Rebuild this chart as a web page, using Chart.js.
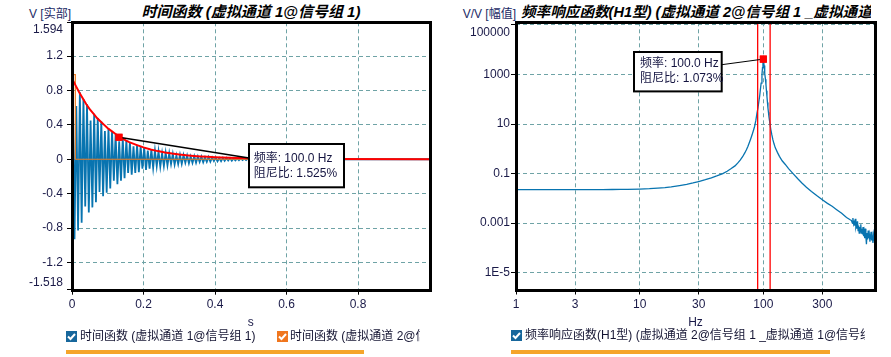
<!DOCTYPE html>
<html><head><meta charset="utf-8">
<script src="https://cdn.jsdelivr.net/npm/chart.js@4/dist/chart.umd.min.js"></script>
<style>
html,body{margin:0;padding:0;background:#fff;}
body{width:891px;height:357px;position:relative;overflow:hidden;font-family:"Liberation Sans","Noto Sans CJK SC",Arial,sans-serif;}
.abs{position:absolute;white-space:nowrap;}
.title{font-weight:bold;font-style:italic;font-size:15px;color:#000;line-height:16px;top:4px;}
.unit{font-size:12px;color:#1c2a66;line-height:14px;top:7px;}
.leg{font-size:12px;color:#141432;line-height:14px;top:329px;overflow:hidden;}
.cb{position:absolute;width:11px;height:11px;top:331px;}
.bar{position:absolute;height:4px;top:350px;background:#f5a52a;}
</style>
</head><body>
<div class="abs title" style="left:72px;width:358px;text-align:center;">时间函数 (虚拟通道 1@信号组 1)</div>
<div class="abs title" style="left:521px;width:350px;overflow:hidden;font-size:14.6px;">频率响应函数(H1型) (虚拟通道 2@信号组 1 _虚拟通道 1@信号组 1)</div>
<div class="abs unit" style="left:0;width:71px;text-align:right;">V [实部]</div>
<div class="abs unit" style="left:440px;width:76px;text-align:right;">V/V [幅值]</div>
<div style="position:absolute;left:0;top:0;width:450px;height:357px;"><canvas id="c1" width="450" height="357"></canvas></div>
<div style="position:absolute;left:450px;top:0;width:441px;height:357px;"><canvas id="c2" width="441" height="357"></canvas></div>

<svg class="cb" style="left:66px" viewBox="0 0 11 11"><rect x="0" y="0" width="11" height="11" fill="#17679c"/><polyline points="2,5.5 4.5,8 9,3" fill="none" stroke="#fff" stroke-width="2"/></svg>
<div class="abs leg" style="left:80px;width:190px;">时间函数 (虚拟通道 1@信号组 1)</div>
<svg class="cb" style="left:277px" viewBox="0 0 11 11"><rect x="0" y="0" width="11" height="11" fill="#f0761e"/><polyline points="2,5.5 4.5,8 9,3" fill="none" stroke="#fff" stroke-width="2"/></svg>
<div class="abs leg" style="left:290px;width:130px;">时间函数 (虚拟通道 2@信号组 1)</div>
<div class="bar" style="left:66px;width:298px;"></div>

<svg class="cb" style="left:511px;top:330px" viewBox="0 0 11 11"><rect x="0" y="0" width="11" height="11" fill="#17679c"/><polyline points="2,5.5 4.5,8 9,3" fill="none" stroke="#fff" stroke-width="2"/></svg>
<div class="abs leg" style="left:525px;width:340px;top:328px;">频率响应函数(H1型) (虚拟通道 2@信号组 1 _虚拟通道 1@信号组 1)</div>
<div class="bar" style="left:511px;width:319px;"></div>

<script>
// ---------------- DATA ----------------
// Left chart: time function (s, V)
const leftXTicks = [0, 0.2, 0.4, 0.6, 0.8];
const leftYTicks = [1.594, 1.2, 0.8, 0.4, 0, -0.4, -0.8, -1.2, -1.518];
const sigTime = [0,0.002,0.007,0.012,0.017,0.022,0.027,0.032,0.037,0.042,0.047,0.052,0.057,0.062,0.067,0.072,0.077,0.082,0.087,0.092,0.097,
 0.102,0.107,0.112,0.117,0.122,0.127,0.132,0.137,0.142,0.147,0.152,0.157,0.162,0.167,0.172,0.177,0.182,0.187,0.192,0.197,
 0.202,0.207,0.212,0.217,0.222,0.227,0.232,0.237,0.242,0.247,0.252,0.257,0.262,0.267,0.272,0.277,0.282,0.287,0.292,0.297,
 0.302,0.307,0.312,0.317,0.322,0.327,0.332,0.337,0.342,0.347,0.352,0.357,0.362,0.367,0.372,0.377,0.382,0.387,0.392,0.397,
 0.402,0.407,0.412,0.417,0.422,0.427,0.432,0.437,0.442,0.447,0.452,0.457,0.462,0.467,0.472,0.477,0.482,0.487,0.492,0.497,
 0.55,0.6,1.0];
const sigValue = [0,0.96,-0.93,0.62,-0.83,0.78,-0.74,0.70,-0.55,0.64,-0.62,0.45,-0.56,0.53,-0.50,0.48,-0.38,0.44,-0.43,0.33,-0.39,
 0.36,-0.34,0.33,-0.25,0.29,-0.29,0.21,-0.25,0.24,-0.22,0.22,-0.16,0.20,-0.18,0.15,-0.16,0.165,-0.15,0.15,-0.11,
 0.135,-0.125,0.10,-0.11,0.112,-0.10,0.10,-0.08,0.092,-0.085,0.07,-0.078,0.076,-0.07,0.069,-0.055,0.062,-0.06,0.045,-0.055,
 0.052,-0.052,0.047,-0.04,0.043,-0.046,0.033,-0.042,0.036,-0.04,0.032,-0.03,0.030,-0.034,0.022,-0.03,0.025,-0.028,0.022,-0.021,
 0.020,-0.023,0.015,-0.021,0.017,-0.018,0.015,-0.014,0.014,-0.016,0.010,-0.014,0.011,-0.012,0.010,-0.009,0.009,-0.010,0.007,-0.008,
 0.003,0,0];
const impTime = [0, 0, 0.0093, 0.0093, 1.0];
const impValue = [0, 0.985, 0.985, 0, 0];
const envTime = [0,0.01,0.02,0.03,0.04,0.05,0.06,0.07,0.08,0.09,0.10,0.11,0.12,0.13,0.14,0.15,0.16,0.18,0.20,0.22,0.24,0.26,0.28,0.30,0.32,0.34,0.36,0.38,0.40,0.42,0.44,0.46,0.48,0.50,0.60,0.70,1.0];
const envValue = [0.94,0.86,0.78,0.71,0.64,0.58,0.53,0.48,0.44,0.40,0.36,0.33,0.30,0.27,0.245,0.22,0.20,0.168,0.138,0.114,0.095,0.079,0.066,0.055,0.046,0.039,0.033,0.028,0.024,0.021,0.018,0.016,0.014,0.012,0.005,0.002,0.001];
const leftMarkT = [0.1315];
const leftMarkV = [0.256];
const leftNote = ['频率: 100.0 Hz', '阻尼比: 1.525%'];

// Right chart: FRF magnitude (Hz, V/V)
const rightXTicks = [1, 3, 10, 30, 100, 300];
const rightYTicks = [1e-5, 0.001, 0.1, 10, 1000, 100000];
const rightYLabels = ['1E-5', '0.001', '0.1', '10', '1000', '100000'];
const frfFreq = [1,1.3,1.7,2.2,3,4,5,6,7,8,10,12,14,16,18,21,24,27,30,34,38,42,47,51,55,59,62,65,68,71,73,75,77,79,81,83.4,85,87,88.8,90.5,92,93.5,94.6,96,97.5,98.5,99.3,100,
 100.7,101.5,102.3,103,104,105,106,107,108,109,110,111,113,115,117,119.6,122,125,130,135,142,150,160,174,190,205,223,245,270,300,330,360,392,430,471,500,
 515,525,530,538,545,550,555,560,566,572,578,584,590,596,602,608,614,620,627,634,640,647,654,661,668,675,682,690,697,705,712,720,728,736,744,752,760,770,780,790,800];
const frfAmp = [0.0226,0.0226,0.0226,0.0226,0.0226,0.0227,0.0228,0.0229,0.0231,0.0233,0.0238,0.0246,0.0258,0.0272,0.029,0.033,0.037,0.042,0.048,0.057,0.068,0.081,0.10,0.125,0.16,0.205,0.265,0.35,0.48,0.7,0.92,1.24,1.75,2.5,3.6,5.8,8,14,27,45,80,140,240,450,1000,1900,3300,4200,
 3300,2300,1500,1120,650,400,220,130,75,45,30,20,11,6,3.8,2.3,1.6,1.1,0.72,0.5,0.33,0.24,0.16,0.1,0.062,0.042,0.028,0.019,0.013,0.0088,0.0063,0.0048,0.0035,0.0025,0.0017,0.0014,
 0.0013,0.0010,0.0016,0.0009,0.0011,0.0008,0.0015,0.0007,0.0009,0.0006,0.0012,0.0005,0.0008,0.0004,0.0007,0.00045,0.0009,0.0004,0.0006,0.00035,0.0007,0.0003,0.00045,0.00025,0.0006,0.0003,0.00014,0.0004,0.00022,0.0005,0.00025,0.00035,0.00018,0.0003,0.00045,0.0002,0.0003,0.00016,0.00035,0.00022,0.0003];
const bandFreq = [90, 113.5];
const rightMarkF = [100];
const rightMarkA = [4200];
const rightNote = ['频率: 100.0 Hz', '阻尼比: 1.073%'];

// axis ranges
const leftXRange = [0, 1.0];
const leftYRange = [-1.518, 1.594];
const rightXRange = [1, 800];
const rightYRange = [2.1e-6, 1.285e5];

// ---------------- STYLE / BUILD ----------------
const FONT = '"Liberation Sans", "Noto Sans CJK SC", Arial, sans-serif';
Chart.defaults.font.family = FONT;
Chart.defaults.font.size = 12;
const TICKCOL = '#1a1a48';
const GRIDCOL = '#6fa3a6';
const BLUE = '#0874b0';

const zip = (xs, ys) => xs.map((x, i) => ({x, y: ys[i]}));

function gridOpts(){
  return {color: GRIDCOL, lineWidth: 1, tickColor: '#000', tickLength: 5, tickWidth: 1, tickBorderDash: []};
}

function notePlugin(cfg){
  return {
    id: 'note' + cfg.key,
    afterDraw(chart){
      const ctx = chart.ctx, a = chart.chartArea;
      ctx.save();
      // callout
      const pt = chart.getDatasetMeta(cfg.markIndex).data[0];
      const bx = Math.round(a.left + cfg.box[0]), by = Math.round(a.top + cfg.box[1]), bw = cfg.box[2], bh = cfg.box[3];
      ctx.strokeStyle = '#000'; ctx.lineWidth = cfg.lineW;
      ctx.beginPath();
      ctx.moveTo(pt.x, pt.y);
      if (cfg.side === 'left') ctx.lineTo(bx, by + cfg.anchorY); else ctx.lineTo(bx + bw, by + cfg.anchorY);
      ctx.stroke();
      // marker again on top of callout
      const s = 3.5;
      ctx.fillStyle = '#ff0000';
      ctx.fillRect(pt.x - s, pt.y - s, 2 * s, 2 * s);
      // box
      ctx.fillStyle = '#fff';
      ctx.fillRect(bx, by, bw, bh);
      ctx.lineWidth = 2; ctx.strokeStyle = '#000';
      ctx.strokeRect(bx, by, bw, bh);
      ctx.fillStyle = '#141440';
      ctx.font = '12px ' + FONT;
      ctx.textBaseline = 'middle'; ctx.textAlign = 'left';
      cfg.lines.forEach((t, i) => ctx.fillText(t, bx + cfg.textX, by + cfg.textY[i]));
      // frame
      const L = Math.round(a.left), T = Math.round(a.top), R = Math.round(a.right), B = Math.round(a.bottom);
      ctx.strokeStyle = '#000'; ctx.lineWidth = 3; ctx.setLineDash([]);
      ctx.beginPath();
      ctx.rect(L + 0.5, T + 0.5, R - L, B - T);
      ctx.stroke();
      ctx.restore();
    }
  };
}

new Chart(document.getElementById('c1'), {
  type: 'line',
  data: {
    datasets: [
      {data: zip(leftMarkT, leftMarkV), showLine: false, pointStyle: 'rect', pointRadius: 5, pointBackgroundColor: '#ff0000', pointBorderColor: '#ff0000', pointBorderWidth: 0, order: 0},
      {data: zip(envTime, envValue), borderColor: '#ff0000', borderWidth: 2, pointRadius: 0, order: 1},
      {data: zip(impTime, impValue), borderColor: '#ef7d22', borderWidth: 1.2, pointRadius: 0, order: 2},
      {data: zip(sigTime, sigValue), borderColor: BLUE, borderWidth: 1.8, pointRadius: 0, order: 3}
    ]
  },
  options: {
    responsive: false, animation: false, events: [],
    layout: {padding: {left: 0, right: 20.5, top: 22.3, bottom: 27.3}},
    plugins: {legend: {display: false}, tooltip: {enabled: false}},
    scales: {
      x: {type: 'linear', min: leftXRange[0], max: leftXRange[1],
          afterBuildTicks: s => { s.ticks = leftXTicks.map(v => ({value: v})); },
          afterFit: s => { s.height = 40; },
          ticks: {autoSkip: false, maxRotation: 0, color: TICKCOL, padding: 3, callback: v => String(v)},
          grid: gridOpts(), border: {display: false, dash: [4, 3]},
          title: {display: true, text: 's', color: TICKCOL, font: {size: 12}, padding: {top: 0, bottom: 0}}},
      y: {type: 'linear', min: leftYRange[0], max: leftYRange[1],
          afterBuildTicks: s => { s.ticks = leftYTicks.map(v => ({value: v})); },
          afterFit: s => { s.width = 72; },
          ticks: {autoSkip: false, color: TICKCOL, padding: 4,
                  callback: v => v === leftYRange[1] ? ['', String(v)] : (v === leftYRange[0] ? [String(v), ''] : String(v))},
          grid: gridOpts(), border: {display: false, dash: [4, 3]}}
    }
  },
  plugins: [notePlugin({key: 'L', markIndex: 0, box: [177.3, 121.7, 95, 43.3], side: 'left', anchorY: 14, lineW: 1.5,
    lines: leftNote, textX: 4.7, textY: [14.3, 29.3]})]
});

new Chart(document.getElementById('c2'), {
  type: 'line',
  data: {
    datasets: [
      {data: zip(rightMarkF, rightMarkA), showLine: false, pointStyle: 'rect', pointRadius: 5, pointBackgroundColor: '#ff0000', pointBorderColor: '#ff0000', pointBorderWidth: 0, order: 0},
      {data: zip([bandFreq[0], bandFreq[0]], rightYRange), borderColor: '#ff0000', borderWidth: 1.3, pointRadius: 0, order: 1},
      {data: zip([bandFreq[1], bandFreq[1]], rightYRange), borderColor: '#ff0000', borderWidth: 1.3, pointRadius: 0, order: 1},
      {data: zip(frfFreq, frfAmp), borderColor: BLUE, borderWidth: 1.3, pointRadius: 0, order: 3}
    ]
  },
  options: {
    responsive: false, animation: false, events: [],
    layout: {padding: {left: 0, right: 16, top: 22.3, bottom: 27.5}},
    plugins: {legend: {display: false}, tooltip: {enabled: false}},
    scales: {
      x: {type: 'logarithmic', min: rightXRange[0], max: rightXRange[1],
          afterBuildTicks: s => { s.ticks = rightXTicks.map(v => ({value: v})); },
          afterFit: s => { s.height = 40; },
          ticks: {autoSkip: false, maxRotation: 0, color: TICKCOL, padding: 3, callback: v => String(v)},
          grid: gridOpts(), border: {display: false, dash: [4, 3]},
          title: {display: true, text: 'Hz', color: TICKCOL, font: {size: 12}, padding: {top: 0, bottom: 0}}},
      y: {type: 'logarithmic', min: rightYRange[0], max: rightYRange[1],
          afterBuildTicks: s => { s.ticks = rightYTicks.map(v => ({value: v})); },
          afterFit: s => { s.width = 66; },
          ticks: {autoSkip: false, color: TICKCOL, padding: 1,
                  callback: v => { const i = rightYTicks.findIndex(t => Math.abs(Math.log10(t) - Math.log10(v)) < 1e-6); if (i < 0) return ''; return i === rightYTicks.length - 1 ? ['', rightYLabels[i]] : rightYLabels[i]; }},
          grid: gridOpts(), border: {display: false, dash: [4, 3]}}
    }
  },
  plugins: [notePlugin({key: 'R', markIndex: 0, box: [118, 30, 87.7, 39.4], side: 'right', anchorY: 12.7, lineW: 1,
    lines: rightNote, textX: 6, textY: [12, 27]})]
});
</script>
</body></html>
